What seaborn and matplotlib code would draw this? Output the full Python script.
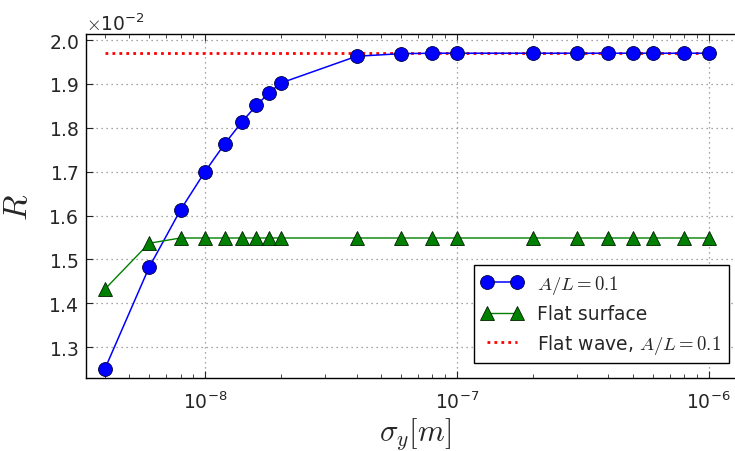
import matplotlib
matplotlib.use("Agg")
import matplotlib.pyplot as plt
import matplotlib.ticker as mticker
import seaborn as sns

sns.set_style("ticks")
plt.rcParams['font.family'] = ['DejaVu Sans']
plt.rcParams['mathtext.fontset'] = 'cm'

sigma = [4e-9, 6e-9, 8e-9, 1e-8, 1.2e-8, 1.4e-8, 1.6e-8, 1.8e-8, 2e-8, 4e-8,
         6e-8, 8e-8, 1e-7, 2e-7, 3e-7, 4e-7, 5e-7, 6e-7, 8e-7, 1e-6]
r_wave = [0.01250, 0.01482, 0.01613, 0.01700, 0.01764, 0.01813, 0.01851,
          0.01880, 0.01902, 0.01963, 0.01969, 0.01970, 0.01970, 0.01970,
          0.01970, 0.01970, 0.01970, 0.01970, 0.01970, 0.01970]
r_flat = [0.01432, 0.01537, 0.01549, 0.01549, 0.01549, 0.01549, 0.01549,
          0.01549, 0.01549, 0.01549, 0.01549, 0.01549, 0.01549, 0.01549,
          0.01549, 0.01549, 0.01549, 0.01549, 0.01549, 0.01549]
flat_wave_x = [4e-9, 1e-6]
flat_wave_r = [0.01971, 0.01971]

fig = plt.figure(figsize=(7.35, 4.52), dpi=100)
ax = fig.add_axes([0.117, 0.1615, 0.895, 0.761])

sns.lineplot(x=sigma, y=r_wave, ax=ax, color="blue", marker="o", markersize=10,
             markeredgecolor="#000040", markeredgewidth=0.6, linewidth=1.1,
             label=r"$A/L=0.1$", zorder=3)
sns.lineplot(x=sigma, y=r_flat, ax=ax, color=(0, 0.5, 0), marker="^", markersize=10,
             markeredgecolor="#002000", markeredgewidth=0.6, linewidth=1.0,
             label="Flat surface", zorder=3)
sns.lineplot(x=flat_wave_x, y=flat_wave_r, ax=ax, color="red", linestyle=(0, (1, 1.5)),
             linewidth=2, label=r"Flat wave, $A/L=0.1$", zorder=2)

ax.set_xscale("log")
ax.set_xlim(3.37e-9, 1.38e-6)
ax.set_ylim(0.01230, 0.020137)
ax.yaxis.set_major_locator(mticker.MultipleLocator(0.001))
fmt = mticker.ScalarFormatter(useMathText=True)
fmt.set_powerlimits((-1, 1))
ax.yaxis.set_major_formatter(fmt)
ax.yaxis.get_offset_text().set_fontsize(13.5)

ax.grid(True, which="major", color="#888888", linestyle=(0, (1, 3)), linewidth=0.9)
ax.tick_params(axis="both", which="both", direction="in", top=True, right=True,
               labelsize=13.5)
ax.tick_params(axis="y", which="major", length=5, pad=5)
ax.tick_params(axis="x", which="major", length=5, pad=9)
ax.tick_params(axis="x", which="minor", length=3)
for s in ax.spines.values():
    s.set_linewidth(1.0)
    s.set_color("black")

ax.set_xlabel(r"$\sigma_y[m]$", fontsize=22, labelpad=2)
ax.set_ylabel(r"$R$", fontsize=24, labelpad=10)

leg = ax.legend(loc="lower right", numpoints=2, fontsize=13.5, fancybox=False,
                edgecolor="black", framealpha=1, borderaxespad=0.8,
                handlelength=2.2, labelspacing=0.45, borderpad=0.4)
leg.get_frame().set_linewidth(1.0)

fig.savefig("out.png", dpi=100)
